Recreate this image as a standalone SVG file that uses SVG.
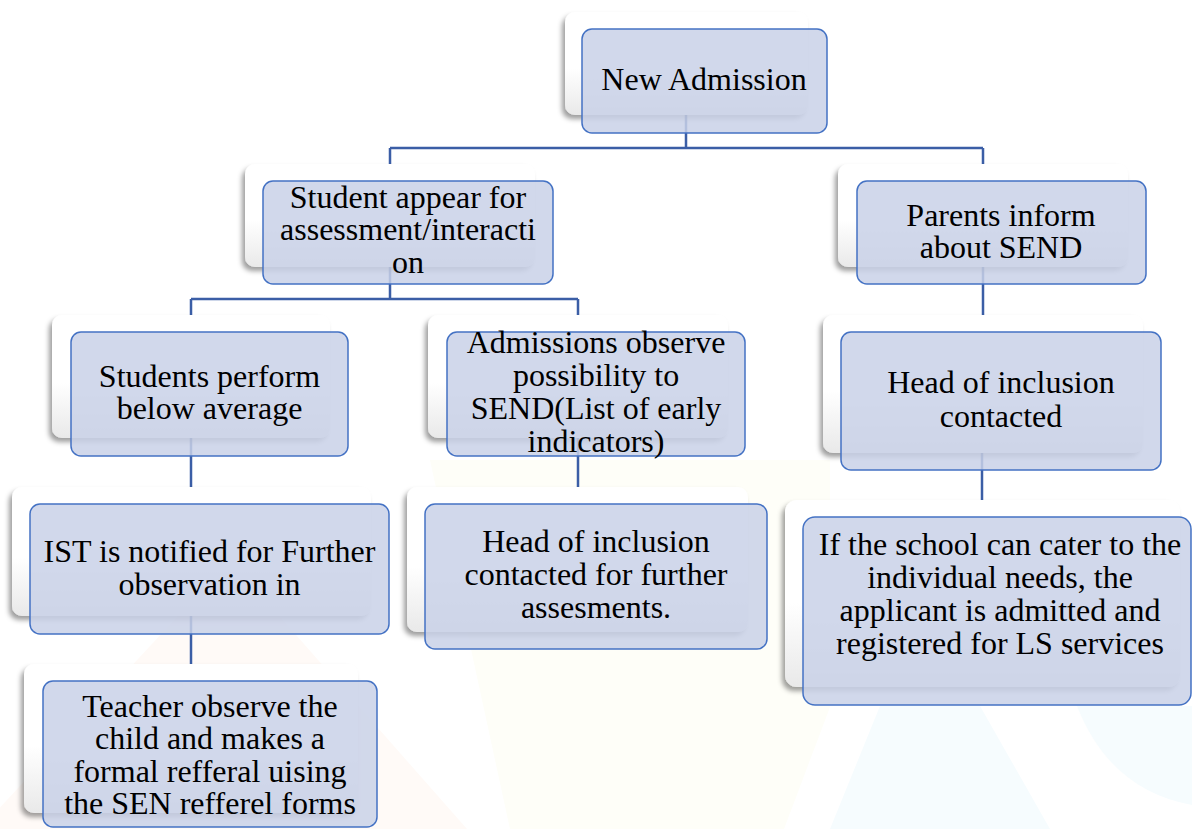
<svg xmlns="http://www.w3.org/2000/svg" width="1192" height="829" viewBox="0 0 1192 829">
  <defs>
    <linearGradient id="backGrad" x1="0" y1="0" x2="0" y2="1">
      <stop offset="0" stop-color="#ffffff"/>
      <stop offset="0.55" stop-color="#ffffff"/>
      <stop offset="1" stop-color="#e9e9e9"/>
    </linearGradient>
    <filter id="shadow" x="-10%" y="-10%" width="120%" height="130%">
      <feDropShadow dx="-3" dy="4" stdDeviation="2.5" flood-color="#000" flood-opacity="0.38"/>
    </filter>
    <style>
      .back { fill: url(#backGrad); filter: url(#shadow); }
      .front { fill: #c9d1e8; fill-opacity: 0.85; stroke: #4472c4; stroke-width: 1.5; }
      .conn { fill: none; stroke: #3b5ea6; stroke-width: 2.5; }
      .lbl { font-family: "Liberation Serif", "Times New Roman", serif; font-size: 32px; fill: #000; text-anchor: middle; }
    </style>
  </defs>

  <rect x="0" y="0" width="1192" height="829" fill="#ffffff"/>

  <g id="watermark">
    <polygon points="-20,829 230,560 467,829" fill="#fffaf7"/>
    <polygon points="430,460 830,460 830,707 784,829 510,829" fill="#fefef8"/>
    <polygon points="880,706 980,706 1050,829 830,829" fill="#f6fcfe"/>
    <path d="M1077,706 L1192,706 L1192,805 Q1110,790 1077,706 Z" fill="#f6fcfe"/>
  </g>

  <g id="connectors">
    <path class="conn" d="M686,115 V148 M390,148 H983 M390,148 V164 M983,148 V164"/>
    <path class="conn" d="M390,267 V299 M191,299 H578 M191,299 V315 M578,299 V315"/>
    <path class="conn" d="M983,267 V315"/>
    <path class="conn" d="M191,438 V487"/>
    <path class="conn" d="M578,438 V487"/>
    <path class="conn" d="M982,453 V500"/>
    <path class="conn" d="M191,616 V664"/>
  </g>

  <g id="node-new-admission">
    <rect class="back" x="565" y="12" width="243" height="103" rx="10"/>
    <rect class="front" x="582" y="29" width="245" height="104" rx="10"/>
    <text class="lbl" x="704" y="90">New Admission</text>
  </g>

  <g id="node-student-appear">
    <rect class="back" x="245" y="164" width="290" height="103" rx="10"/>
    <rect class="front" x="263" y="181" width="290" height="103" rx="10"/>
    <text class="lbl" x="408" y="208">Student appear for</text>
    <text class="lbl" x="408" y="240">assessment/interacti</text>
    <text class="lbl" x="408" y="273">on</text>
  </g>

  <g id="node-parents-inform">
    <rect class="back" x="838" y="164" width="290" height="103" rx="10"/>
    <rect class="front" x="857" y="181" width="289" height="103" rx="10"/>
    <text class="lbl" x="1001" y="226">Parents inform</text>
    <text class="lbl" x="1001" y="258">about SEND</text>
  </g>

  <g id="node-below-average">
    <rect class="back" x="52" y="315" width="278" height="123" rx="10"/>
    <rect class="front" x="71" y="332" width="277" height="124" rx="10"/>
    <text class="lbl" x="209.5" y="387">Students perform</text>
    <text class="lbl" x="209.5" y="419">below average</text>
  </g>

  <g id="node-admissions-observe">
    <rect class="back" x="428" y="315" width="300" height="123" rx="10"/>
    <rect class="front" x="447" y="332" width="298" height="124" rx="10"/>
    <text class="lbl" x="596" y="353">Admissions observe</text>
    <text class="lbl" x="596" y="386">possibility to</text>
    <text class="lbl" x="596" y="419">SEND(List of early</text>
    <text class="lbl" x="596" y="452">indicators)</text>
  </g>

  <g id="node-head-inclusion-right">
    <rect class="back" x="823" y="315" width="320" height="138" rx="10"/>
    <rect class="front" x="841" y="332" width="320" height="138" rx="10"/>
    <text class="lbl" x="1001" y="393">Head of inclusion</text>
    <text class="lbl" x="1001" y="427">contacted</text>
  </g>

  <g id="node-ist-notified">
    <rect class="back" x="12" y="487" width="359" height="129" rx="10"/>
    <rect class="front" x="30" y="504" width="359" height="130" rx="10"/>
    <text class="lbl" x="209.5" y="562">IST is notified for Further</text>
    <text class="lbl" x="209.5" y="595">observation in</text>
  </g>

  <g id="node-head-inclusion-mid">
    <rect class="back" x="407" y="487" width="341" height="145" rx="10"/>
    <rect class="front" x="425" y="504" width="342" height="145" rx="10"/>
    <text class="lbl" x="596" y="552">Head of inclusion</text>
    <text class="lbl" x="596" y="585">contacted for further</text>
    <text class="lbl" x="596" y="618">assesments.</text>
  </g>

  <g id="node-school-cater">
    <rect class="back" x="785" y="500" width="395" height="187" rx="12"/>
    <rect class="front" x="803" y="517" width="388" height="188" rx="12"/>
    <text class="lbl" x="1000" y="555">If the school can cater to the</text>
    <text class="lbl" x="1000" y="588">individual needs, the</text>
    <text class="lbl" x="1000" y="621">applicant is admitted and</text>
    <text class="lbl" x="1000" y="654">registered for LS services</text>
  </g>

  <g id="node-teacher-observe">
    <rect class="back" x="24" y="664" width="334" height="149" rx="10"/>
    <rect class="front" x="43" y="681" width="334" height="146" rx="10"/>
    <text class="lbl" x="210" y="717">Teacher observe the</text>
    <text class="lbl" x="210" y="749">child and makes a</text>
    <text class="lbl" x="210" y="782">formal refferal uising</text>
    <text class="lbl" x="210" y="814">the SEN refferel forms</text>
  </g>
</svg>
